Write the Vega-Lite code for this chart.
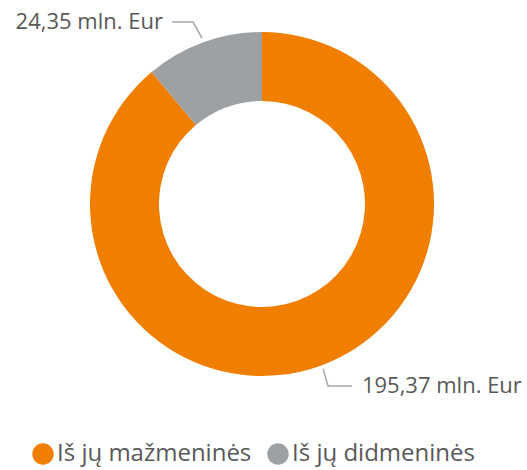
{
  "$schema": "https://vega.github.io/schema/vega-lite/v6.json",
  "width": 527,
  "height": 470,
  "autosize": {"type": "none"},
  "padding": 0,
  "background": "white",
  "config": {"view": {"stroke": null}, "font": "Open Sans"},
  "datasets": {
    "slices": [
      {"category": "Iš jų mažmeninės", "value": 195.37, "rank": 1},
      {"category": "Iš jų didmeninės", "value": 24.35, "rank": 2}
    ],
    "leaders": [
      {"grp": "a", "ord": 1, "lx": -0.523, "ly": 1.058},
      {"grp": "a", "ord": 2, "lx": -0.401, "ly": 1.058},
      {"grp": "a", "ord": 3, "lx": -0.349, "ly": 0.965},
      {"grp": "b", "ord": 1, "lx": 0.355, "ly": -0.959},
      {"grp": "b", "ord": 2, "lx": 0.384, "ly": -1.058},
      {"grp": "b", "ord": 3, "lx": 0.523, "ly": -1.058}
    ],
    "labels": [
      {"side": "left", "tx": -0.576, "ty": 1.058, "label": "24,35 mln. Eur"},
      {"side": "right", "tx": 0.581, "ty": -1.058, "label": "195,37 mln. Eur"}
    ]
  },
  "layer": [
    {
      "data": {"name": "slices"},
      "mark": {"type": "arc", "outerRadius": 172, "innerRadius": 103},
      "encoding": {
        "x": {"datum": 0, "type": "quantitative", "scale": {"domain": [-1.5233, 1.5407], "nice": false, "zero": false}, "axis": null},
        "y": {"datum": 0, "type": "quantitative", "scale": {"domain": [-1.5465, 1.186], "nice": false, "zero": false}, "axis": null},
        "theta": {"field": "value", "type": "quantitative", "stack": true},
        "order": {"field": "rank", "type": "quantitative"},
        "color": {
          "field": "category",
          "type": "nominal",
          "scale": {"domain": ["Iš jų mažmeninės", "Iš jų didmeninės"], "range": ["#F07F00", "#9DA1A4"]},
          "legend": {
            "orient": "none",
            "legendX": 31,
            "legendY": 442,
            "direction": "horizontal",
            "title": null,
            "symbolType": "circle",
            "symbolSize": 460,
            "symbolStrokeWidth": 0,
            "labelFontSize": 24,
            "labelLimit": 0,
            "labelColor": "#595959",
            "labelFont": "Open Sans",
            "columnPadding": 14,
            "labelOffset": 2
          }
        }
      }
    },
    {
      "data": {"name": "leaders"},
      "mark": {"type": "line", "color": "#A6A6A6", "strokeWidth": 1.5},
      "encoding": {
        "x": {"field": "lx", "type": "quantitative"},
        "y": {"field": "ly", "type": "quantitative"},
        "detail": {"field": "grp"},
        "order": {"field": "ord", "type": "quantitative"}
      }
    },
    {
      "data": {"name": "labels"},
      "transform": [{"filter": "datum.side === 'left'"}],
      "mark": {"type": "text", "align": "right", "baseline": "middle", "fontSize": 22, "color": "#595959", "font": "Open Sans"},
      "encoding": {
        "x": {"field": "tx", "type": "quantitative"},
        "y": {"field": "ty", "type": "quantitative"},
        "text": {"field": "label"}
      }
    },
    {
      "data": {"name": "labels"},
      "transform": [{"filter": "datum.side === 'right'"}],
      "mark": {"type": "text", "align": "left", "baseline": "middle", "fontSize": 22, "color": "#595959", "font": "Open Sans"},
      "encoding": {
        "x": {"field": "tx", "type": "quantitative"},
        "y": {"field": "ty", "type": "quantitative"},
        "text": {"field": "label"}
      }
    }
  ]
}
